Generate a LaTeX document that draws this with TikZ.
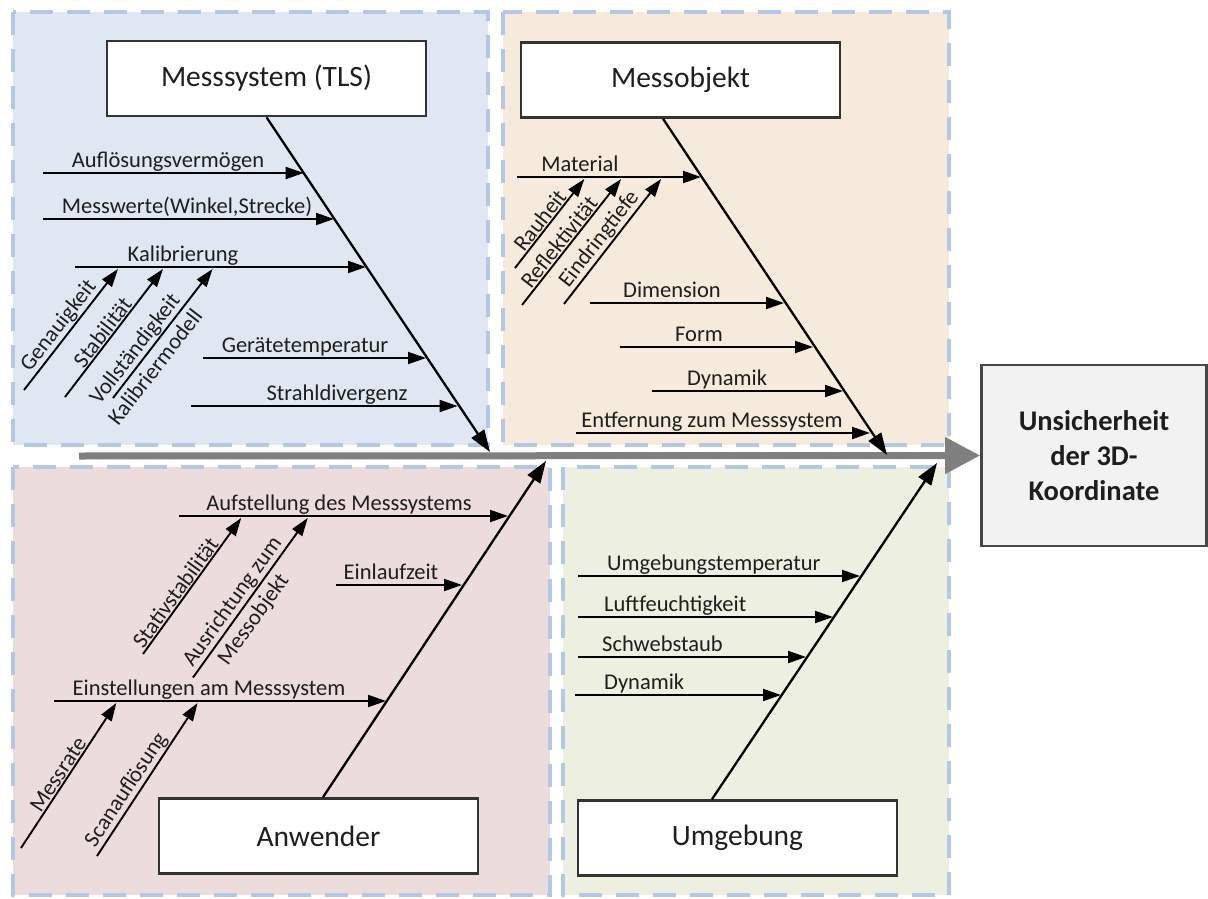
\documentclass[tikz,border=0pt]{standalone}
\usepackage{fontspec}
\setmainfont{Carlito}
\usetikzlibrary{arrows.meta}
\definecolor{pnlTL}{HTML}{DFE8F2}
\definecolor{pnlTR}{HTML}{F6EADC}
\definecolor{pnlBL}{HTML}{ECDCDC}
\definecolor{pnlBR}{HTML}{EDF0E0}
\definecolor{dashc}{HTML}{B4C7E7}
\definecolor{boxc}{HTML}{333333}
\definecolor{txt}{HTML}{1E1E1E}
\definecolor{spinegray}{HTML}{7F7F7F}
\definecolor{resfill}{HTML}{F2F2F2}
\begin{document}
\begin{tikzpicture}[x=1pt,y=-1pt,
  panel/.style={draw=dashc, line width=4.5pt, dash pattern=on 23pt off 14pt},
  catbox/.style={draw=boxc, fill=white, line width=2.6pt, minimum width=319pt, minimum height=75pt,
    inner sep=0pt, font=\fontsize{29.5}{35}\selectfont, text=txt},
  resbox/.style={draw=boxc!90, fill=resfill, line width=2.6pt, minimum width=225pt, minimum height=181pt,
    align=center, font=\fontsize{28.5}{35}\selectfont\bfseries, text=txt},
  spine/.style={draw=black, line width=2.3pt, -{Triangle[length=22pt,width=15pt]}},
  branch/.style={draw=black, line width=1.9pt, -{Triangle[length=18pt,width=12pt]}},
  lbl/.style={font=\fontsize{22.5}{27}\selectfont, text=txt, inner sep=1pt},
  lblfar/.style={lbl, inner sep=5pt},
  hlbl/.style={lbl, anchor=base},
  hlblw/.style={lbl, anchor=base west},
  mainspine/.style={draw=spinegray, line width=7pt, -{Triangle[length=35pt,width=35pt]}}
]
\useasboundingbox (0,0) rectangle (1208,899);

% panels
\path[panel, fill=pnlTL] (13,12) rectangle (488,445);
\path[panel, fill=pnlTR] (503,12) rectangle (949,445);
\path[panel, fill=pnlBL] (13,467) rectangle (550,895);
\path[panel, fill=pnlBR] (563,467) rectangle (949,895);

% category boxes
\node[catbox] (msys) at (266.5,78.5) {Messsystem (TLS)};
\node[catbox] (mobj) at (680.5,80) {Messobjekt};
\node[catbox] (anw) at (318.5,836) {Anwender};
\node[catbox] (umg) at (737.5,838) {Umgebung};

% result box
\node[resbox] (res) at (1094,455.5) {Unsicherheit\\der 3D-\\Koordinate};

% main spine
\coordinate (mainS) at (79,456);
\draw[mainspine] (mainS) -- (res.west);

% category spines
\coordinate (msT) at (490,452);
\coordinate (moT) at (887,455);
\coordinate (anT) at (546,461);
\coordinate (umT) at (937,463);
\draw[spine] (msys.south) -- (msT);
\draw[spine] ([xshift=-17.5pt]mobj.south) -- (moT);
\draw[spine] ([xshift=4.5pt]anw.north) -- (anT);
\draw[spine] ([xshift=-25.5pt]umg.north) -- (umT);

% ---------- Messsystem (TLS)
\coordinate (h1s) at (43,173);  \coordinate (h1e) at (303.7,173);
\coordinate (h2s) at (43,219);  \coordinate (h2e) at (334,219);
\coordinate (h3s) at (75,267);  \coordinate (h3e) at (366,267);
\coordinate (h4s) at (203,358); \coordinate (h4e) at (426,358);
\coordinate (h5s) at (191,406); \coordinate (h5e) at (457.6,406);
\draw[branch] (h1s) -- (h1e);
\draw[branch] (h2s) -- (h2e);
\draw[branch] (h3s) -- (h3e);
\draw[branch] (h4s) -- (h4e);
\draw[branch] (h5s) -- (h5e);
\node[hlbl] (l1) at (168,167) {Auflösungsvermögen};
\node[hlbl] (l2) at (187,213) {Messwerte(Winkel,Strecke)};
\node[hlbl] (l3) at (183,261) {Kalibrierung};
\node[hlbl] (l4) at (305,352) {Gerätetemperatur};
\node[hlbl] (l5) at (337,400) {Strahldivergenz};

\coordinate (d1s) at (24,390);  \coordinate (d1e) at (118,269);
\coordinate (d2s) at (65,397);  \coordinate (d2e) at (163,269);
\coordinate (d3s) at (113,398); \coordinate (d3e) at (212.6,269);
\draw[branch] (d1s) -- (d1e) node[lbl, sloped, above, pos=0.47] (l6) {Genauigkeit};
\draw[branch] (d2s) -- (d2e) node[lbl, sloped, above, pos=0.46] (l7) {Stabilität};
\draw[branch] (d3s) -- (d3e) node[lbl, sloped, above, pos=0.32] (l8) {Vollständigkeit}
                             node[lblfar, sloped, below, pos=0.31] (l9) {Kalibriermodell};

% ---------- Messobjekt
\coordinate (m1s) at (517,177); \coordinate (m1e) at (701,177);
\coordinate (m2s) at (590,303); \coordinate (m2e) at (784,303);
\coordinate (m3s) at (620,347); \coordinate (m3e) at (813,347);
\coordinate (m4s) at (652,391); \coordinate (m4e) at (843,391);
\coordinate (m5s) at (576,433); \coordinate (m5e) at (870,433);
\draw[branch] (m1s) -- (m1e);
\draw[branch] (m2s) -- (m2e);
\draw[branch] (m3s) -- (m3e);
\draw[branch] (m4s) -- (m4e);
\draw[branch] (m5s) -- (m5e);
\node[hlbl] (k1) at (580,171) {Material};
\node[hlbl] (k2) at (672,297) {Dimension};
\node[hlbl] (k3) at (699,341) {Form};
\node[hlbl] (k4) at (727,385) {Dynamik};
\node[hlbl] (k5) at (712,427) {Entfernung zum Messsystem};

\coordinate (r1s) at (515,268); \coordinate (r1e) at (584.3,179);
\coordinate (r2s) at (522,305); \coordinate (r2e) at (621.1,179);
\coordinate (r3s) at (564,304); \coordinate (r3e) at (661.1,179);
\draw[branch] (r1s) -- (r1e) node[lbl, sloped, above, pos=0.47] (k6) {Rauheit};
\draw[branch] (r2s) -- (r2e) node[lbl, sloped, above, pos=0.45] (k7) {Reflektivität};
\draw[branch] (r3s) -- (r3e) node[lbl, sloped, above, pos=0.46] (k8) {Eindringtiefe};

% ---------- Anwender
\coordinate (b1s) at (179,516); \coordinate (b1e) at (508,516);
\coordinate (b2s) at (336,585); \coordinate (b2e) at (462,585);
\coordinate (b3s) at (54,701);  \coordinate (b3e) at (386,701);
\draw[branch] (b1s) -- (b1e);
\draw[branch] (b2s) -- (b2e);
\draw[branch] (b3s) -- (b3e);
\node[hlbl] (a1) at (339,510) {Aufstellung des Messsystems};
\node[hlbl] (a2) at (391,579) {Einlaufzeit};
\node[hlbl] (a3) at (209,695) {Einstellungen am Messsystem};

\coordinate (c1s) at (143,654); \coordinate (c1e) at (241.2,518);
\coordinate (c2s) at (193,677.5); \coordinate (c2e) at (307.7,518);
\coordinate (c3s) at (21,848);  \coordinate (c3e) at (116.3,703);
\coordinate (c4s) at (97,856);  \coordinate (c4e) at (197.6,703);
\draw[branch] (c1s) -- (c1e) node[lbl, sloped, above, pos=0.41] (a4) {Stativstabilität};
\draw[branch] (c2s) -- (c2e) node[lbl, sloped, above, pos=0.43] (a5) {Ausrichtung zum}
                             node[lblfar, sloped, below, pos=0.42] (a6) {Messobjekt};
\draw[branch] (c3s) -- (c3e) node[lbl, sloped, above, pos=0.47] (a7) {Messrate};
\draw[branch] (c4s) -- (c4e) node[lbl, sloped, above, pos=0.39] (a8) {Scanauflösung};

% ---------- Umgebung
\coordinate (u1s) at (578,576); \coordinate (u1e) at (860,576);
\coordinate (u2s) at (578,617); \coordinate (u2e) at (833,617);
\coordinate (u3s) at (578,657); \coordinate (u3e) at (806,657);
\coordinate (u4s) at (575,695); \coordinate (u4e) at (781,695);
\draw[branch] (u1s) -- (u1e);
\draw[branch] (u2s) -- (u2e);
\draw[branch] (u3s) -- (u3e);
\draw[branch] (u4s) -- (u4e);
\node[hlblw] (e1) at (606,570) {Umgebungstemperatur};
\node[hlblw] (e2) at (603,611) {Luftfeuchtigkeit};
\node[hlblw] (e3) at (601,651) {Schwebstaub};
\node[hlblw] (e4) at (603,689) {Dynamik};
\end{tikzpicture}
\end{document}
